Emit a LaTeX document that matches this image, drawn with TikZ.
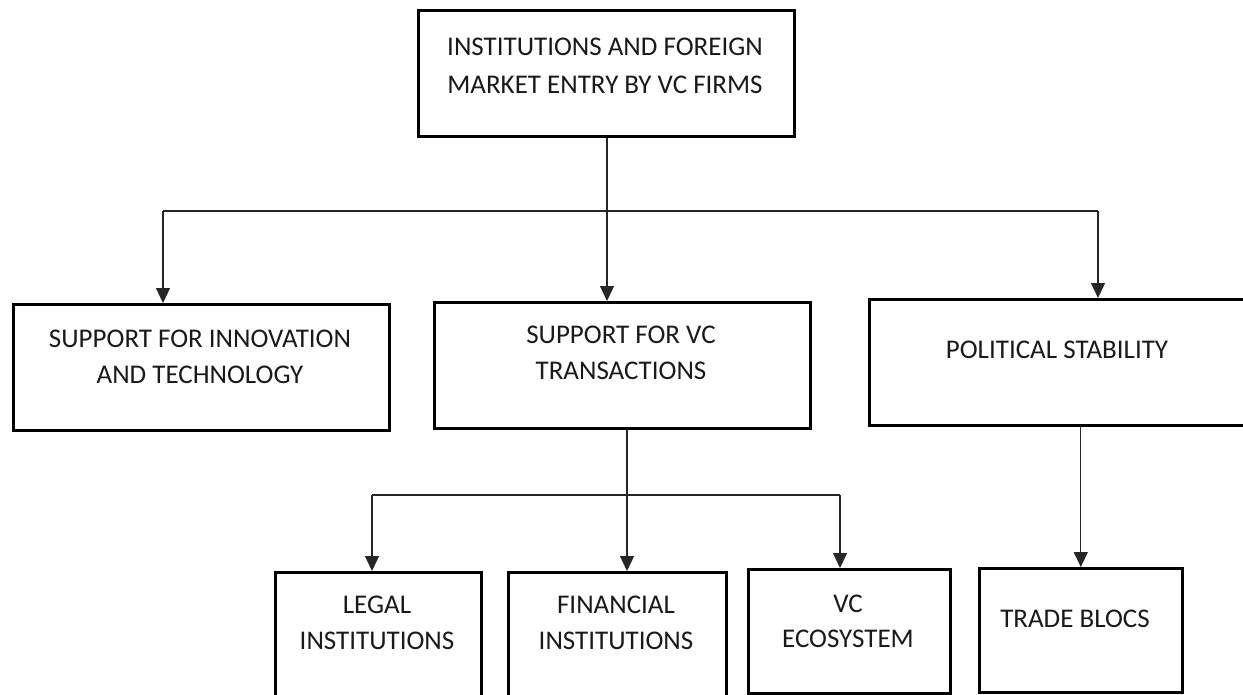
\documentclass[tikz,border=0pt]{standalone}
\usepackage{fontspec}
\setmainfont{Carlito}
\usetikzlibrary{arrows.meta}
\begin{document}
\begin{tikzpicture}[x=1pt,y=-1pt,
  box/.style={draw=black, line width=2.6pt, inner sep=0pt, anchor=north west},
  lbl/.style={inner sep=0pt, align=center, anchor=base, font=\fontsize{27}{36}\selectfont, text=black!90},
  conn/.style={draw=black!85, line width=1.3pt},
  arr/.style={conn, -{Triangle[width=14pt,length=15pt]}}]
\useasboundingbox (0,0) rectangle (1243,694);

% boxes
\node[box, minimum width=376pt, minimum height=126pt] (top) at (417,9) {};
\node[box, minimum width=376pt, minimum height=126pt] (b1) at (12,303) {};
\node[box, minimum width=376pt, minimum height=126pt] (b2) at (433,301) {};
\node[box, minimum width=378pt, minimum height=126pt] (b3) at (868,298) {};
\node[box, minimum width=206pt, minimum height=140pt] (legal) at (274,571) {};
\node[box, minimum width=218pt, minimum height=140pt] (fin) at (507,571) {};
\node[box, minimum width=202pt, minimum height=124pt] (vc) at (747,568) {};
\node[box, minimum width=203pt, minimum height=124pt] (tb) at (978,567) {};

% texts (anchor = baseline of the last line)
\node[lbl, font=\fontsize{27}{38}\selectfont] (topt) at (605,93) {INSTITUTIONS AND FOREIGN\\MARKET ENTRY BY VC FIRMS};
\node[lbl] (b1t) at (200,383) {SUPPORT FOR INNOVATION\\AND TECHNOLOGY};
\node[lbl] (b2t) at (621,379) {SUPPORT FOR VC\\TRANSACTIONS};
\node[lbl] (b3t) at (1057,358) {POLITICAL STABILITY};
\node[lbl] (legalt) at (377,649) {LEGAL\\INSTITUTIONS};
\node[lbl] (fint) at (616,649) {FINANCIAL\\INSTITUTIONS};
\node[lbl, font=\fontsize{27}{35}\selectfont] (vct) at (848,647) {VC\\ECOSYSTEM};
\node[lbl] (tbt) at (1075,627) {TRADE BLOCS};

% first level connectors
\coordinate (h1) at (163,211);
\coordinate (hm) at (607,211);
\coordinate (h3) at (1098,211);
\draw[conn] (top.south -| hm) -- (hm);
\draw[conn] (h1) -- (h3);
\draw[arr] (h1) -- (h1 |- b1.north);
\draw[arr] (hm) -- (hm |- b2.north);
\draw[arr] (h3) -- (h3 |- b3.north);

% second level connectors
\coordinate (g1) at (372,495);
\coordinate (gm) at (627,495);
\coordinate (g3) at (840,495);
\draw[conn] (b2.south -| gm) -- (gm);
\draw[conn] (g1) -- (g3);
\draw[arr] (g1) -- (g1 |- legal.north);
\draw[arr] (gm) -- (gm |- fin.north);
\draw[arr] (g3) -- (g3 |- vc.north);

% political stability to trade blocs
\draw[arr] (b3.south -| tb.north) -- (tb.north);
\end{tikzpicture}
\end{document}
